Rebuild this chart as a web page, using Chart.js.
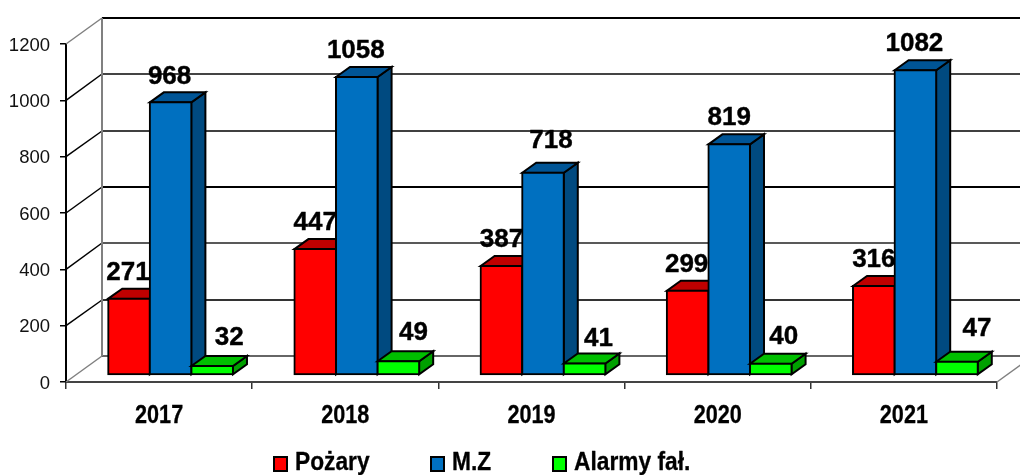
<!DOCTYPE html>
<html><head><meta charset="utf-8">
<style>html,body{margin:0;padding:0;background:#fff}canvas{display:block}</style>
<script src="https://cdn.jsdelivr.net/npm/chart.js@4/dist/chart.umd.min.js"></script>
</head><body><canvas id="c" width="1020" height="475"></canvas>
<script>
const years = ['2017','2018','2019','2020','2021'];
const pozary = [271,447,387,299,316];
const mz = [968,1058,718,819,1082];
const alarmy = [32,49,41,40,47];
const seriesNames = ['Pożary','M.Z','Alarmy fał.'];
const yTicks = [0,200,400,600,800,1000,1200];

const FONT = '"Liberation Sans", Arial, sans-serif';
const faces = [
  {front:'#FF0000', top:'#BF0000', side:'#A00000'},
  {front:'#0070C0', top:'#005596', side:'#004A80'},
  {front:'#00FF00', top:'#00BF00', side:'#00A000'}
];
const wall = {dx:36, dy:-26};
const barShift = {dx:11.5, dy:-7};
const depth = {dx:14, dy:-10};
const labelNudge = [
  [{x:-1,y:1},{x:0,y:1},{x:0,y:1},{x:-1,y:1},{x:0,y:1}],
  [{x:-1,y:1},{x:-1,y:1},{x:8,y:-5},{x:0,y:1},{x:-1,y:1}],
  [{x:17,y:-1},{x:15,y:-1},{x:14,y:2},{x:13,y:0},{x:20,y:-6}]
];
const gridStyle = {
  1200:{c:'#000',w:2}, 1000:{c:'#444',w:2}, 800:{c:'#000',w:1.5},
  600:{c:'#000',w:2}, 400:{c:'#222',w:1.5}, 200:{c:'#333',w:2}, 0:{c:'#333',w:1.5}
};
const legendItems = [{x:273,tx:295},{x:430,tx:452},{x:552,tx:574}];
const legendSquash = 0.91;
const yearSquash = 0.865;

function heavyText(ctx, s, w){
  ctx.fillStyle='#000'; ctx.strokeStyle='#000'; ctx.lineWidth=w; ctx.lineJoin='round';
  ctx.strokeText(s,0,0); ctx.fillText(s,0,0);
}

function drawFaces(ctx, meta, f){
  ctx.lineWidth = 2; ctx.strokeStyle = '#000'; ctx.lineJoin='miter';
  meta.data.forEach(el=>{
    const p = el.getProps(['x','y','base','width'],true);
    const l = p.x-p.width/2, r = p.x+p.width/2, t = p.y, b = p.base;
    ctx.fillStyle = f.side;
    ctx.beginPath();
    ctx.moveTo(r,t); ctx.lineTo(r+depth.dx,t+depth.dy);
    ctx.lineTo(r+depth.dx,b+depth.dy); ctx.lineTo(r,b); ctx.closePath();
    ctx.fill(); ctx.stroke();
    ctx.fillStyle = f.top;
    ctx.beginPath();
    ctx.moveTo(l,t); ctx.lineTo(l+depth.dx,t+depth.dy);
    ctx.lineTo(r+depth.dx,t+depth.dy); ctx.lineTo(r,t); ctx.closePath();
    ctx.fill(); ctx.stroke();
  });
}

const wall3d = {
  id:'wall3d',
  beforeDatasetsDraw(chart){
    const {ctx, scales:{x,y}} = chart;
    const L = x.left, R = x.right;
    ctx.save();
    ctx.lineCap = 'butt';
    yTicks.forEach(v=>{
      const py = y.getPixelForValue(v);
      const by = Math.round(py + wall.dy);
      const st = gridStyle[v];
      const edge = v===0 || v===1200;
      ctx.strokeStyle = edge ? '#808080' : '#000';
      ctx.lineWidth = 1.5;
      ctx.beginPath(); ctx.moveTo(L,py); ctx.lineTo(L+wall.dx,by); ctx.stroke();
      ctx.strokeStyle = st.c; ctx.lineWidth = st.w;
      ctx.beginPath(); ctx.moveTo(L+wall.dx,by); ctx.lineTo(R+wall.dx,by); ctx.stroke();
    });
    ctx.strokeStyle='#808080'; ctx.lineWidth=2;
    ctx.beginPath();
    ctx.moveTo(L+wall.dx, y.getPixelForValue(1200)+wall.dy);
    ctx.lineTo(L+wall.dx, y.getPixelForValue(0)+wall.dy);
    ctx.stroke();
    ctx.lineWidth=1.5;
    ctx.beginPath();
    ctx.moveTo(R, y.getPixelForValue(0));
    ctx.lineTo(R+wall.dx, y.getPixelForValue(0)+wall.dy);
    ctx.stroke();
    ctx.restore();

    // series are painted first to last so each one sits in front of the previous
    chart.data.datasets.forEach((ds,i)=>{
      const meta = chart.getDatasetMeta(i);
      ctx.save();
      ctx.translate(barShift.dx, barShift.dy);
      drawFaces(ctx, meta, faces[i]);
      meta.controller.draw();
      ctx.restore();
    });

    ctx.save();
    ctx.font = 'bold 26px '+FONT;
    ctx.textAlign='center'; ctx.textBaseline='middle';
    chart.data.datasets.forEach((ds,i)=>{
      chart.getDatasetMeta(i).data.forEach((el,j)=>{
        const n = labelNudge[i][j];
        ctx.save();
        ctx.translate(el.x+barShift.dx+n.x, el.y+barShift.dy-27+n.y);
        heavyText(ctx,String(ds.data[j]),0.4);
        ctx.restore();
      });
    });
    ctx.restore();
    return false;
  },
  afterDraw(chart){
    const {ctx, scales:{x}} = chart;
    chart.data.labels.forEach((lab,i)=>{
      ctx.save();
      ctx.font='bold 25px '+FONT; ctx.textAlign='center'; ctx.textBaseline='middle';
      ctx.translate(x.getPixelForValue(i),416);
      ctx.scale(yearSquash,1);
      heavyText(ctx,lab,0.3);
      ctx.restore();
    });
    chart.data.datasets.forEach((ds,i)=>{
      const it = legendItems[i];
      ctx.save();
      ctx.fillStyle = ds.backgroundColor;
      ctx.strokeStyle='#000'; ctx.lineWidth=2;
      ctx.fillRect(it.x+1,457,13,14); ctx.strokeRect(it.x+1,457,13,14);
      ctx.font='bold 25px '+FONT; ctx.textAlign='left'; ctx.textBaseline='middle';
      ctx.translate(it.tx,463);
      ctx.scale(legendSquash,1);
      heavyText(ctx,ds.label,0.3);
      ctx.restore();
    });
  }
};

const mk = (i,data)=>({label:seriesNames[i],data,backgroundColor:faces[i].front,borderColor:'#000',borderWidth:2,borderSkipped:false,inflateAmount:1});

new Chart(document.getElementById('c'),{
  type:'bar',
  data:{labels:years,datasets:[mk(0,pozary),mk(1,mz),mk(2,alarmy)]},
  options:{
    responsive:false, animation:false,
    layout:{padding:{top:44,right:23,left:0,bottom:0}},
    datasets:{bar:{barPercentage:1,categoryPercentage:0.67}},
    plugins:{legend:{display:false},tooltip:{enabled:false}},
    scales:{
      x:{
        afterFit(s){s.height=93;},
        grid:{drawOnChartArea:false,drawTicks:true,offset:true,tickLength:7,color:'#333',lineWidth:1.5},
        border:{display:true,color:'#444',width:2},
        ticks:{display:false}
      },
      y:{
        min:0,max:1200,
        afterFit(s){s.width=66;},
        afterBuildTicks(s){s.ticks=yTicks.map(value=>({value}));},
        grid:{drawOnChartArea:false,drawTicks:true,tickLength:6,color:'#000',lineWidth:1.5},
        border:{display:true,color:'#000',width:2},
        ticks:{color:'#111',font:{family:FONT,size:18.5},padding:10,labelOffset:1.5,callback:v=>String(v)}
      }
    }
  },
  plugins:[wall3d]
});
</script></body></html>
